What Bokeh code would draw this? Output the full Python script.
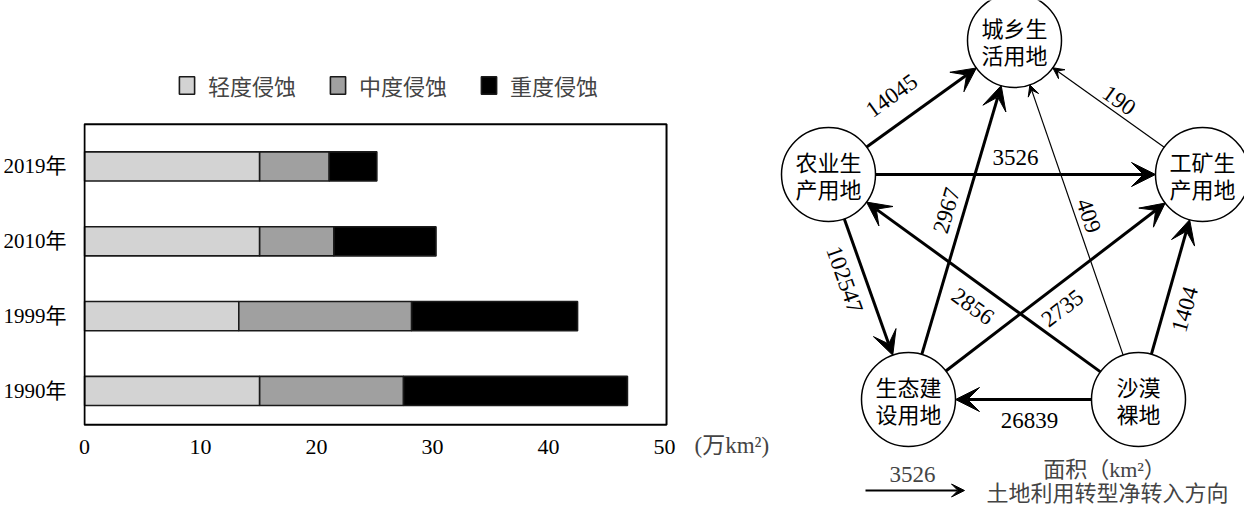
import math
from bokeh.plotting import figure
from bokeh.models import (ColumnDataSource, Range1d, FixedTicker, Legend, LegendItem,
                          Label, Arrow, VeeHead, BoxAnnotation)
from bokeh.layouts import row
from bokeh.embed import file_html
from bokeh.resources import INLINE
from bokeh.core.properties import value

# ---------------- data: stacked bars (万km²) ----------------
years = ["1990年", "1999年", "2010年", "2019年"]
light = [15.1, 13.3, 15.1, 15.1]
medium = [12.4, 14.9, 6.4, 6.0]
heavy = [19.3, 14.3, 8.8, 4.1]
series_names = ["轻度侵蚀", "中度侵蚀", "重度侵蚀"]
x_ticks = [0, 10, 20, 30, 40, 50]
x_unit = "(万km²)"

# ---------------- data: land-use transfer network (km²) ----------------
nodes = ["城乡生活用地", "农业生产用地", "工矿生产用地", "生态建设用地", "沙漠裸地"]
node_text = ["城乡生\n活用地", "农业生\n产用地", "工矿生\n产用地", "生态建\n设用地", "沙漠\n裸地"]
flow_from = ["农业生产用地", "工矿生产用地", "农业生产用地", "农业生产用地", "生态建设用地",
             "沙漠裸地", "沙漠裸地", "生态建设用地", "沙漠裸地", "沙漠裸地"]
flow_to = ["城乡生活用地", "城乡生活用地", "工矿生产用地", "生态建设用地", "城乡生活用地",
           "城乡生活用地", "农业生产用地", "工矿生产用地", "生态建设用地", "工矿生产用地"]
flow_value = [14045, 190, 3526, 102547, 2967, 409, 2856, 2735, 26839, 1404]
key_value = 3526
key_text = ["面积（km²）", "土地利用转型净转入方向"]

# ---------------- layout / style (not data) ----------------
SERIF = "'Liberation Serif', 'Noto Sans CJK SC'"
CJK = "'Noto Sans CJK SC'"
node_xy = {"城乡生活用地": (1022, 48), "农业生产用地": (836, 182), "工矿生产用地": (1210, 182),
           "生态建设用地": (916, 407), "沙漠裸地": (1146, 407)}
# (fraction along edge, perpendicular offset) for each flow label
label_place = [(0.425, 27), (0.48, -12), (0.5, 17), (0.437, -20), (0.513, 17),
               (0.5, -13), (0.493, 22), (0.48, -21), (0.474, 21), (0.425, -20)]
R_NODE = 47
# plotting box of the bar chart (in data units), drawn inside a taller frame
BOX = dict(left=0, right=50.17, bottom=-0.452, top=3.565)

# ================= left: stacked horizontal bars =================
p1 = figure(width=690, height=508, output_backend="svg", toolbar_location=None, title=None,
            x_range=Range1d(-0.085, 50.34), y_range=Range1d(-0.475, 4.523),
            min_border_left=73, min_border_right=22, min_border_top=52, min_border_bottom=82)
p1.frame_align = False

src = ColumnDataSource(dict(y=list(range(len(years))), light=light, medium=medium, heavy=heavy))
rends = p1.hbar_stack(["light", "medium", "heavy"], y="y", height=0.39, source=src,
                      fill_color=["#d3d3d3", "#a0a0a0", "#000000"],
                      line_color="#1a1a1a", line_width=1.6)

p1.add_layout(BoxAnnotation(fill_alpha=0, line_color="black", line_width=2, line_alpha=1, **BOX))

p1.grid.visible = False
p1.outline_line_color = None
p1.axis.axis_line_color = None
p1.axis.major_tick_line_color = None
p1.axis.minor_tick_line_color = None
p1.xaxis.ticker = FixedTicker(ticks=x_ticks)
p1.yaxis.ticker = FixedTicker(ticks=list(range(len(years))))
p1.yaxis.major_label_overrides = {i: y for i, y in enumerate(years)}
p1.xaxis.major_label_text_font = SERIF
p1.xaxis.major_label_text_font_size = "22px"
p1.xaxis.major_label_standoff = 7
p1.yaxis.major_label_text_font = SERIF
p1.yaxis.major_label_text_font_size = "21px"
p1.yaxis.major_label_standoff = 11
p1.axis.major_label_text_color = "black"

legend = Legend(items=[LegendItem(label=n, renderers=[r]) for n, r in zip(series_names, rends)],
                orientation="horizontal", location=(94, 325), padding=0, margin=0, spacing=32,
                glyph_width=19, glyph_height=22, label_standoff=12, label_height=22,
                label_text_font_size="22px", label_text_font=CJK,
                border_line_color=None, background_fill_alpha=0)
p1.add_layout(legend)

# ================= right: transfer network =================
p2 = figure(width=554, height=508, output_backend="svg", toolbar_location=None, title=None,
            x_range=Range1d(698, 1252), y_range=Range1d(516, 8),
            x_axis_type=None, y_axis_type=None, min_border=0)
p2.frame_align = False
p2.grid.visible = False
p2.outline_line_color = None

# unit of the bar chart's x axis (sits just right of the "50" tick)
p2.add_layout(Label(x=702, y=453, text=x_unit, text_align="left", text_baseline="middle",
                    text_font=SERIF, text_font_size="23px"))

arrows = {"thick": dict(x0=[], y0=[], x1=[], y1=[]), "thin": dict(x0=[], y0=[], x1=[], y1=[])}
lab = dict(x=[], y=[], text=[], angle=[])
for (f, t, v), (frac, off) in zip(zip(flow_from, flow_to, flow_value), label_place):
    xa, ya = node_xy[f]
    xb, yb = node_xy[t]
    dx, dy = xb - xa, yb - ya
    L = math.hypot(dx, dy)
    ux, uy = dx / L, dy / L
    key = "thick" if v >= 1000 else "thin"
    a = arrows[key]
    a["x0"].append(xa + ux * R_NODE)
    a["y0"].append(ya + uy * R_NODE)
    a["x1"].append(xb - ux * R_NODE)
    a["y1"].append(yb - uy * R_NODE)
    ang = math.degrees(math.atan2(-dy, dx))
    if ang > 90:
        ang -= 180
    if ang <= -90:
        ang += 180
    lab["x"].append(xa + frac * dx + off * uy)
    lab["y"].append(ya + frac * dy - off * ux)
    lab["text"].append(str(v))
    lab["angle"].append(ang)

p2.add_layout(Arrow(source=ColumnDataSource(arrows["thick"]), x_start="x0", y_start="y0",
                    x_end="x1", y_end="y1", line_width=3, line_color="black",
                    end=VeeHead(size=24, fill_color="black", line_color="black", line_width=1)))
p2.add_layout(Arrow(source=ColumnDataSource(arrows["thin"]), x_start="x0", y_start="y0",
                    x_end="x1", y_end="y1", line_width=1.2, line_color="black",
                    end=VeeHead(size=11, fill_color="black", line_color="black", line_width=1)))

p2.text(x="x", y="y", text="text", angle="angle", angle_units="deg",
        source=ColumnDataSource(lab), text_align="center", text_baseline="middle",
        text_font=value(SERIF), text_font_size="23px", text_color="black")

nsrc = ColumnDataSource(dict(x=[node_xy[n][0] for n in nodes], y=[node_xy[n][1] for n in nodes],
                             text=node_text))
p2.circle(x="x", y="y", radius=R_NODE, source=nsrc, fill_color="white",
          line_color="black", line_width=1.5)
p2.text(x="x", y="y", text="text", source=nsrc, text_align="center", text_baseline="middle",
        text_font=value(CJK), text_font_size="22px", text_line_height=0.85, text_color="black")

# key at the bottom
p2.add_layout(Arrow(x_start=873, y_start=498, x_end=972, y_end=498, line_width=2,
                    line_color="black",
                    end=VeeHead(size=13, fill_color="black", line_color="black", line_width=1)))
p2.add_layout(Label(x=920, y=482, text=str(key_value), text_align="center", text_baseline="middle",
                    text_font=SERIF, text_font_size="23px"))
p2.add_layout(Label(x=1112, y=477, text=key_text[0], text_align="center", text_baseline="middle",
                    text_font=SERIF, text_font_size="22px"))
p2.add_layout(Label(x=1115, y=498, text=key_text[1], text_align="center",
                    text_baseline="middle", text_font=CJK, text_font_size="22px"))

layout = row(p1, p2)
open("out.html", "w").write(file_html(layout, INLINE))
